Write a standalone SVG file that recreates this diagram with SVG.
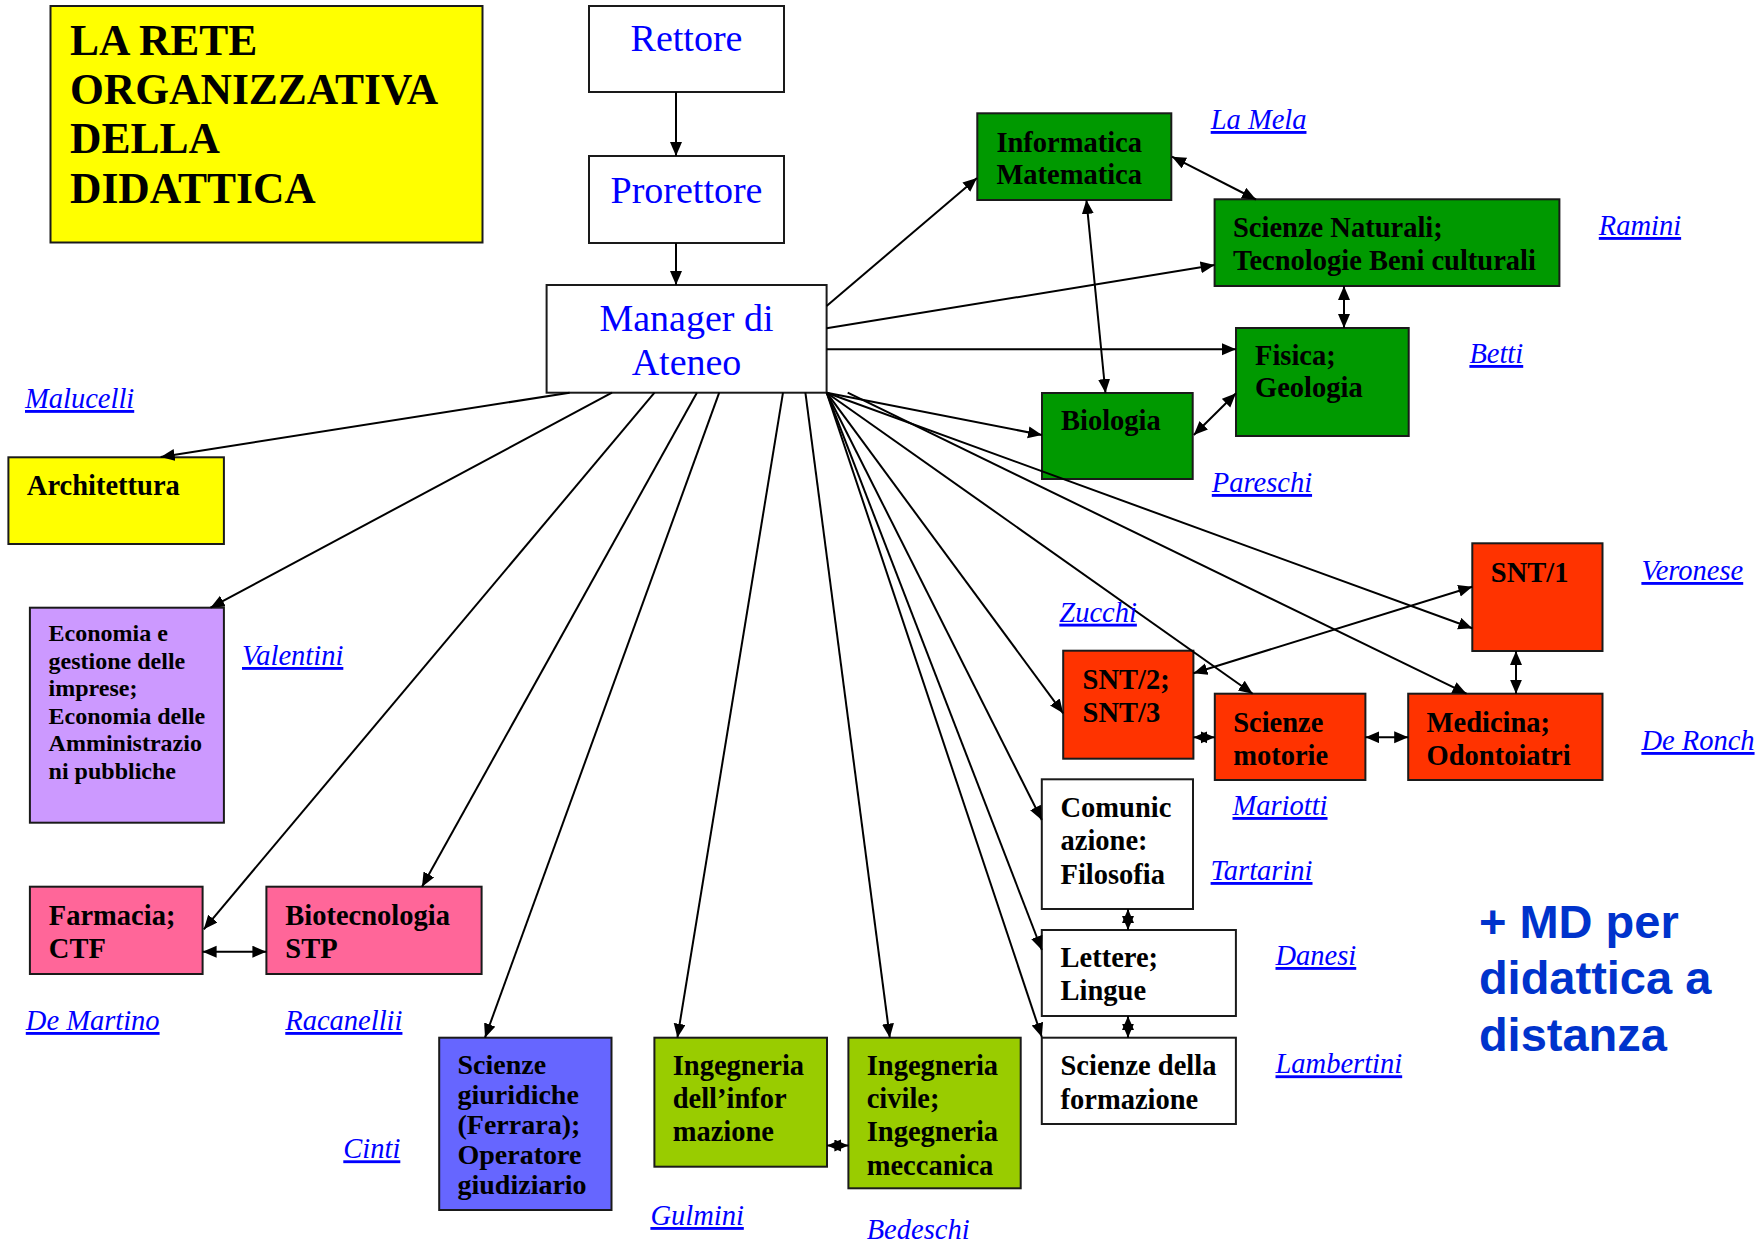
<svg xmlns="http://www.w3.org/2000/svg" width="1762" height="1246" viewBox="0 0 1762 1246">
<style>
.box{stroke:#1a1a1a;stroke-width:2}
.t{font-family:"Liberation Serif","Times New Roman",serif;font-weight:bold;font-size:28.5px;fill:#000}
.ts{font-size:24px}
.tg{font-size:28px}
.title{font-family:"Liberation Serif","Times New Roman",serif;font-weight:bold;font-size:43.5px;fill:#000}
.top{font-family:"Liberation Serif","Times New Roman",serif;font-size:38px;fill:#0000FF;text-anchor:middle}
.nm{font-family:"Liberation Serif","Times New Roman",serif;font-style:italic;font-size:28.5px;fill:#0000FF;text-decoration:underline}
.md{font-family:"Liberation Sans",Arial,sans-serif;font-weight:bold;font-size:47px;fill:#0033CC}
.c line{stroke:#000;stroke-width:2;fill:none;marker-end:url(#ah)}
.c line.d{marker-start:url(#ah)}
</style>
<defs>
<marker id="ah" markerUnits="userSpaceOnUse" markerWidth="15" markerHeight="13" refX="14" refY="6" orient="auto-start-reverse">
<path d="M0,0 L14,6 L0,12 z" fill="#000"/>
</marker>
</defs>
<rect width="1762" height="1246" fill="#fff"/>

<g id="title">
<rect class="box" x="50.5" y="6" width="432" height="236.5" fill="#FFFF00"/>
<text class="title" x="70" y="55">LA RETE</text>
<text class="title" x="70" y="104">ORGANIZZATIVA</text>
<text class="title" x="70" y="153">DELLA</text>
<text class="title" x="70" y="203">DIDATTICA</text>
</g>

<g id="rettore">
<rect class="box" x="589" y="6" width="195" height="86" fill="#fff"/>
<text class="top" x="686.5" y="51">Rettore</text>
</g>
<g id="prorettore">
<rect class="box" x="589" y="156" width="195" height="87" fill="#fff"/>
<text class="top" x="686.5" y="202.5">Prorettore</text>
</g>
<g id="manager">
<rect class="box" x="546.6" y="285" width="280" height="107.7" fill="#fff"/>
<text class="top" x="686.5" y="330.5">Manager di</text>
<text class="top" x="686.5" y="375">Ateneo</text>
</g>

<g id="informatica">
<rect class="box" x="977.3" y="113.3" width="194" height="86.7" fill="#009900"/>
<text class="t" x="996.4" y="152">Informatica</text>
<text class="t" x="996.4" y="183.7">Matematica</text>
</g>
<g id="scienze-naturali">
<rect class="box" x="1214.6" y="199.3" width="344.8" height="86.7" fill="#009900"/>
<text class="t" x="1233" y="237">Scienze Naturali;</text>
<text class="t" x="1233" y="270">Tecnologie Beni culturali</text>
</g>
<g id="fisica">
<rect class="box" x="1236" y="328" width="172.7" height="108" fill="#009900"/>
<text class="t" x="1255" y="365">Fisica;</text>
<text class="t" x="1255" y="397">Geologia</text>
</g>
<g id="biologia">
<rect class="box" x="1042" y="393" width="150.7" height="86" fill="#009900"/>
<text class="t" x="1061" y="430.3">Biologia</text>
</g>

<g id="architettura">
<rect class="box" x="8.4" y="457.3" width="215.5" height="86.7" fill="#FFFF00"/>
<text class="t" x="26.8" y="495.3">Architettura</text>
</g>
<g id="economia">
<rect class="box" x="29.9" y="607.7" width="194" height="215" fill="#CC99FF"/>
<text class="t ts" x="48.6" y="641.3">Economia e</text>
<text class="t ts" x="48.6" y="668.8">gestione delle</text>
<text class="t ts" x="48.6" y="696.3">imprese;</text>
<text class="t ts" x="48.6" y="723.8">Economia delle</text>
<text class="t ts" x="48.6" y="751.3">Amministrazio</text>
<text class="t ts" x="48.6" y="778.8">ni pubbliche</text>
</g>
<g id="farmacia">
<rect class="box" x="29.9" y="886.7" width="172.7" height="87.3" fill="#FF6699"/>
<text class="t" x="48.8" y="924.7">Farmacia;</text>
<text class="t" x="48.8" y="958">CTF</text>
</g>
<g id="biotecnologia">
<rect class="box" x="266.4" y="886.7" width="215.2" height="87.3" fill="#FF6699"/>
<text class="t" x="285.3" y="924.7">Biotecnologia</text>
<text class="t" x="285.3" y="958">STP</text>
</g>
<g id="scienze-giuridiche">
<rect class="box" x="439.2" y="1037.7" width="172.3" height="172.3" fill="#6666FF"/>
<text class="t tg" x="457.5" y="1073.5">Scienze</text>
<text class="t tg" x="457.5" y="1103.5">giuridiche</text>
<text class="t tg" x="457.5" y="1133.5">(Ferrara);</text>
<text class="t tg" x="457.5" y="1163.5">Operatore</text>
<text class="t tg" x="457.5" y="1193.5">giudiziario</text>
</g>
<g id="ing-informazione">
<rect class="box" x="654.4" y="1037.7" width="172.6" height="129" fill="#99CC00"/>
<text class="t" x="672.7" y="1074.7">Ingegneria</text>
<text class="t" x="672.7" y="1108">dell’infor</text>
<text class="t" x="672.7" y="1141.3">mazione</text>
</g>
<g id="ing-civile">
<rect class="box" x="848.4" y="1037.7" width="172.3" height="150.6" fill="#99CC00"/>
<text class="t" x="866.7" y="1074.7">Ingegneria</text>
<text class="t" x="866.7" y="1108">civile;</text>
<text class="t" x="866.7" y="1141.3">Ingegneria</text>
<text class="t" x="866.7" y="1174.7">meccanica</text>
</g>

<g id="comunicazione">
<rect class="box" x="1041.8" y="779.3" width="151.2" height="129.7" fill="#fff"/>
<text class="t" x="1060.5" y="817">Comunic</text>
<text class="t" x="1060.5" y="850.3">azione:</text>
<text class="t" x="1060.5" y="883.7">Filosofia</text>
</g>
<g id="lettere">
<rect class="box" x="1041.8" y="930" width="194.1" height="86" fill="#fff"/>
<text class="t" x="1060.5" y="967">Lettere;</text>
<text class="t" x="1060.5" y="1000.3">Lingue</text>
</g>
<g id="scienze-formazione">
<rect class="box" x="1041.8" y="1037.7" width="194.1" height="86.3" fill="#fff"/>
<text class="t" x="1060.5" y="1075">Scienze della</text>
<text class="t" x="1060.5" y="1108.5">formazione</text>
</g>

<g id="snt1">
<rect class="box" x="1472.3" y="543.3" width="130.2" height="107.7" fill="#FF3300"/>
<text class="t" x="1490.8" y="582">SNT/1</text>
</g>
<g id="snt23">
<rect class="box" x="1063.2" y="650.7" width="130.2" height="108" fill="#FF3300"/>
<text class="t" x="1082.6" y="688.7">SNT/2;</text>
<text class="t" x="1082.6" y="722">SNT/3</text>
</g>
<g id="scienze-motorie">
<rect class="box" x="1214.8" y="693.7" width="150.6" height="86.3" fill="#FF3300"/>
<text class="t" x="1233.2" y="732">Scienze</text>
<text class="t" x="1233.2" y="765.3">motorie</text>
</g>
<g id="medicina">
<rect class="box" x="1408.2" y="693.7" width="194.3" height="86.3" fill="#FF3300"/>
<text class="t" x="1426.6" y="732">Medicina;</text>
<text class="t" x="1426.6" y="764.5">Odontoiatri</text>
</g>

<g id="connectors" class="c">
<line x1="676" y1="92" x2="676" y2="156"/>
<line x1="676" y1="243" x2="676" y2="285"/>
<line x1="826.6" y1="306" x2="977" y2="178"/>
<line class="d" x1="1172" y1="156.7" x2="1256" y2="199.5"/>
<line x1="826.6" y1="328.3" x2="1214.6" y2="265"/>
<line x1="826.6" y1="349.3" x2="1236" y2="349.3"/>
<line class="d" x1="1086.4" y1="200" x2="1105.5" y2="393"/>
<line class="d" x1="1344" y1="286" x2="1344" y2="328"/>
<line class="d" x1="1193.8" y1="435" x2="1236" y2="393.3"/>
<line x1="826.7" y1="392.7" x2="1042" y2="435"/>
<line x1="826.7" y1="392.7" x2="1472.3" y2="628.3"/>
<line x1="847.7" y1="392.7" x2="1466.5" y2="693.7"/>
<line x1="826.7" y1="392.7" x2="1252.7" y2="693.7"/>
<line x1="826.7" y1="392.7" x2="1063.2" y2="713.3"/>
<line x1="826.7" y1="392.7" x2="1041.8" y2="820"/>
<line x1="826.7" y1="392.7" x2="1041.8" y2="950"/>
<line x1="826.7" y1="392.7" x2="1041.8" y2="1037"/>
<line class="d" x1="1472.3" y1="586.7" x2="1193.4" y2="673.3"/>
<line class="d" x1="1193.4" y1="737.3" x2="1214.8" y2="737.3"/>
<line class="d" x1="1365.4" y1="737.3" x2="1408.2" y2="737.3"/>
<line class="d" x1="1516" y1="651" x2="1516" y2="693.7"/>
<line class="d" x1="1128" y1="909" x2="1128" y2="930"/>
<line class="d" x1="1128" y1="1016" x2="1128" y2="1037.7"/>
<line x1="569.6" y1="392.7" x2="160.7" y2="457"/>
<line x1="612" y1="392.7" x2="210.5" y2="607.7"/>
<line x1="654.5" y1="392.7" x2="203.8" y2="929.3"/>
<line x1="696.9" y1="392.7" x2="422" y2="886.7"/>
<line x1="719.2" y1="392.7" x2="485" y2="1037.7"/>
<line x1="783" y1="392.7" x2="677.4" y2="1037.7"/>
<line x1="805.4" y1="392.7" x2="889.8" y2="1037.7"/>
<line class="d" x1="202.6" y1="951.7" x2="266.4" y2="951.7"/>
<line class="d" x1="827" y1="1145.5" x2="848.4" y2="1145.5"/>
</g>

<g id="names">
<text class="nm" x="1210.7" y="129">La Mela</text>
<text class="nm" x="1598.8" y="235">Ramini</text>
<text class="nm" x="1469.4" y="363">Betti</text>
<text class="nm" x="1211.8" y="492">Pareschi</text>
<text class="nm" x="25" y="408">Malucelli</text>
<text class="nm" x="242" y="665">Valentini</text>
<text class="nm" x="1641.4" y="580">Veronese</text>
<text class="nm" x="1059.3" y="621.7">Zucchi</text>
<text class="nm" x="1641.4" y="750">De Ronch</text>
<text class="nm" x="1232.5" y="815">Mariotti</text>
<text class="nm" x="1210.6" y="880">Tartarini</text>
<text class="nm" x="1275.5" y="965">Danesi</text>
<text class="nm" x="1275.5" y="1073.3">Lambertini</text>
<text class="nm" x="25.8" y="1030">De Martino</text>
<text class="nm" x="285.3" y="1030">Racanellii</text>
<text class="nm" x="343.3" y="1158.3">Cinti</text>
<text class="nm" x="650.4" y="1225">Gulmini</text>
<text class="nm" x="866.7" y="1239" style="text-decoration:none">Bedeschi</text>
</g>

<g id="md-note">
<text class="md" x="1478.9" y="937.5">+ MD per</text>
<text class="md" x="1478.9" y="994">didattica a</text>
<text class="md" x="1478.9" y="1050.5">distanza</text>
</g>
</svg>
